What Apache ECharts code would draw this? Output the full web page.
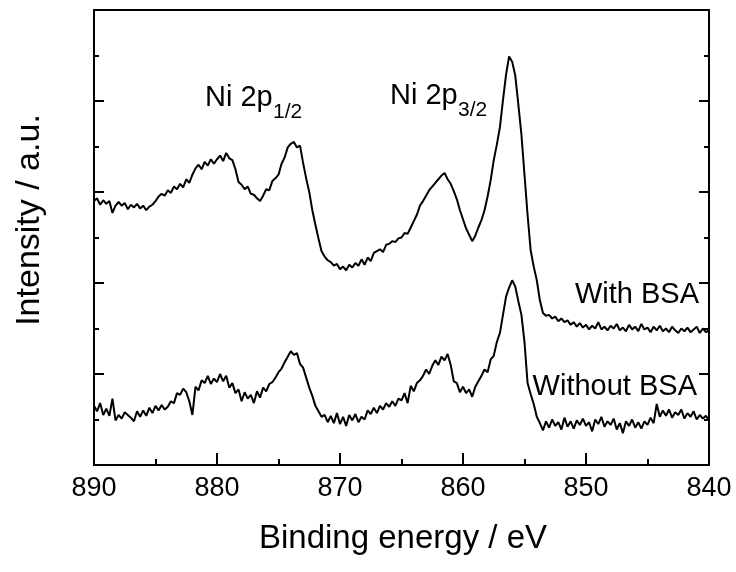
<!DOCTYPE html>
<html lang="en">
<head>
<meta charset="UTF-8">
<title>Ni 2p XPS</title>
<script src="https://cdn.jsdelivr.net/npm/echarts@6/dist/echarts.min.js"></script>
<style>
    html, body { margin: 0; padding: 0; background: #fff; }
    #main { width: 736px; height: 572px; }
</style>
</head>
<body>
<div id="main"></div>
<script>
// energy grid: 890 eV down to 840 eV, 0.25 eV per point
var startEnergy = 890;
var stepEnergy = 0.25;

// upper spectrum (one line per eV: E, E-0.25, E-0.5, E-0.75)
var withBSA = [
    5.80, 5.86, 5.72, 5.82,
    5.74, 5.80, 5.54, 5.70,
    5.78, 5.70, 5.76, 5.62,
    5.72, 5.66, 5.74, 5.64,
    5.70, 5.60, 5.68, 5.72,
    5.80, 5.90, 5.96, 5.92,
    6.04, 5.98, 6.12, 6.06,
    6.18, 6.10, 6.28, 6.20,
    6.38, 6.52, 6.60, 6.50,
    6.66, 6.58, 6.72, 6.62,
    6.72, 6.80, 6.68, 6.86,
    6.74, 6.70, 6.50, 6.22,
    6.16, 6.06, 6.12, 5.96,
    5.94, 5.86, 5.80, 5.92,
    6.06, 6.04, 6.24, 6.30,
    6.38, 6.62, 6.76, 6.98,
    7.06, 7.10, 6.98, 7.02,
    6.64, 6.30, 6.00, 5.60,
    5.28, 4.98, 4.70, 4.58,
    4.50, 4.46, 4.38, 4.42,
    4.30, 4.36, 4.28, 4.40,
    4.34, 4.44, 4.38, 4.52,
    4.40, 4.56, 4.48, 4.66,
    4.70, 4.74, 4.68, 4.84,
    4.86, 4.92, 4.90, 4.98,
    5.00, 5.10, 5.08, 5.22,
    5.36, 5.50, 5.70, 5.80,
    5.92, 6.04, 6.12, 6.20,
    6.28, 6.36, 6.42, 6.28,
    6.18, 6.02, 5.84, 5.60,
    5.40, 5.20, 5.06, 4.92,
    5.04, 5.22, 5.38, 5.60,
    5.90, 6.26, 6.70, 7.04,
    7.42, 8.02, 8.58, 8.98,
    8.86, 8.56, 7.92, 7.26,
    6.38, 5.50, 4.72, 4.36,
    4.06, 3.62, 3.34, 3.28,
    3.30, 3.22, 3.26, 3.16,
    3.22, 3.14, 3.18, 3.08,
    3.14, 3.04, 3.12, 3.02,
    3.08, 2.98, 3.06, 3.00,
    3.14, 2.98, 3.04, 2.96,
    3.06, 3.00, 3.10, 2.96,
    3.02, 2.94, 3.08, 2.98,
    3.04, 2.94, 3.10, 2.98,
    3.02, 2.92, 3.04, 2.96,
    3.06, 2.94, 3.00, 2.92,
    3.04, 2.96, 2.90, 3.00,
    2.94, 3.02, 2.92, 2.98,
    3.04, 2.90, 3.00, 2.92,
    2.96
];

// lower spectrum
var withoutBSA = [
    1.30, 1.18, 1.36, 1.10,
    1.24, 1.08, 1.46, 0.98,
    1.10, 1.02, 1.16, 1.10,
    1.04, 0.96, 1.18, 1.06,
    1.20, 1.08, 1.26, 1.14,
    1.30, 1.20, 1.32, 1.22,
    1.28, 1.40, 1.36, 1.58,
    1.54, 1.68, 1.60, 1.40,
    1.10, 1.72, 1.64, 1.86,
    1.80, 1.96, 1.78, 1.90,
    1.82, 2.00, 1.84, 1.96,
    1.70, 1.80, 1.58, 1.66,
    1.40, 1.60, 1.46, 1.54,
    1.36, 1.62, 1.48, 1.70,
    1.62, 1.78, 1.82, 1.92,
    2.04, 2.12, 2.26, 2.38,
    2.50, 2.42, 2.46, 2.22,
    2.14, 1.92, 1.70, 1.52,
    1.30, 1.18, 1.06, 1.10,
    0.94, 1.08, 0.92, 1.14,
    0.90, 1.06, 0.86, 1.10,
    0.98, 1.12, 0.94, 1.06,
    1.00, 1.20, 1.12, 1.26,
    1.14, 1.30, 1.22, 1.36,
    1.28, 1.40, 1.30, 1.46,
    1.42, 1.58, 1.36, 1.74,
    1.62, 1.80, 1.86, 1.96,
    2.10, 2.00, 2.18, 2.30,
    2.20, 2.38, 2.30, 2.44,
    2.20, 1.84, 1.80, 1.60,
    1.72, 1.58, 1.66, 1.50,
    1.72, 1.84, 1.96, 2.10,
    2.04, 2.32, 2.40, 2.70,
    2.90, 3.30, 3.70, 3.90,
    4.06, 3.92, 3.60, 3.30,
    2.70, 1.80, 1.56, 1.34,
    1.06, 0.92, 0.76, 0.96,
    0.82, 1.00, 0.86, 0.94,
    0.78, 1.04, 0.84, 0.96,
    0.80, 0.98, 0.88, 1.02,
    0.86, 0.94, 0.74, 1.00,
    0.90, 1.06, 0.84, 0.96,
    0.88, 1.02, 0.78, 0.92,
    0.70, 0.96, 0.86, 1.00,
    0.82, 0.94, 0.80, 0.96,
    0.88, 1.04, 0.92, 1.34,
    1.06, 1.20, 1.08, 1.22,
    1.04, 1.16, 1.10, 1.22,
    1.02, 1.14, 1.06, 1.18,
    1.00, 1.10, 1.02, 1.08,
    0.98
];

var seriesNames = ['With BSA', 'Without BSA'];

function toPairs(vals) {
    var out = [];
    for (var i = 0; i < vals.length; i++) {
        out.push([startEnergy - i * stepEnergy, vals[i]]);
    }
    return out;
}

var font = '"Liberation Sans", Arial, sans-serif';
var black = '#000';

var myChart = echarts.init(document.getElementById('main'));

var option = {
    animation: false,
    backgroundColor: '#fff',
    grid: { left: 94, right: 27, top: 10, bottom: 107, containLabel: false },
    xAxis: [{
        type: 'value', min: 840, max: 890, interval: 10, inverse: true, position: 'bottom',
        axisLine: { onZero: false, lineStyle: { color: black, width: 2 } },
        axisTick: { inside: true, length: 12, lineStyle: { color: black, width: 2 } },
        minorTick: { show: true, splitNumber: 2, length: 6, lineStyle: { color: black, width: 2 } },
        axisLabel: { color: black, fontSize: 27, fontFamily: font, margin: 10 },
        splitLine: { show: false }
    }, {
        type: 'value', min: 840, max: 890, inverse: true, position: 'top',
        axisLine: { onZero: false, lineStyle: { color: black, width: 2 } },
        axisTick: { show: false },
        axisLabel: { show: false },
        splitLine: { show: false }
    }],
    yAxis: [{
        type: 'value', min: 0, max: 10, interval: 2, position: 'left',
        axisLine: { show: true, onZero: false, lineStyle: { color: black, width: 2 } },
        axisTick: { show: true, inside: true, length: 10, lineStyle: { color: black, width: 2 } },
        minorTick: { show: true, splitNumber: 2, length: 5, lineStyle: { color: black, width: 2 } },
        axisLabel: { show: false },
        splitLine: { show: false }
    }, {
        type: 'value', min: 0, max: 10, interval: 2, position: 'right',
        axisLine: { show: true, onZero: false, lineStyle: { color: black, width: 2 } },
        axisTick: { show: true, inside: true, length: 10, lineStyle: { color: black, width: 2 } },
        minorTick: { show: true, splitNumber: 2, length: 5, lineStyle: { color: black, width: 2 } },
        axisLabel: { show: false },
        splitLine: { show: false }
    }],
    series: [{
        name: seriesNames[0], type: 'line', xAxisIndex: 0, yAxisIndex: 0,
        showSymbol: false, symbol: 'none',
        lineStyle: { color: black, width: 2 },
        data: toPairs(withBSA)
    }, {
        name: seriesNames[1], type: 'line', xAxisIndex: 0, yAxisIndex: 0,
        showSymbol: false, symbol: 'none',
        lineStyle: { color: black, width: 2 },
        data: toPairs(withoutBSA)
    }],
    graphic: [
        // axis titles
        { type: 'text', x: 403, y: 539, style: { text: 'Binding energy / eV', font: '33px ' + font, fill: black, align: 'center', verticalAlign: 'middle' } },
        { type: 'text', x: 30, y: 220, rotation: Math.PI / 2, style: { text: 'Intensity / a.u.', font: '34px ' + font, fill: black, align: 'center', verticalAlign: 'middle' } },
        // peak labels
        { type: 'text', x: 205, y: 98, style: { text: 'Ni 2p', font: '29px ' + font, fill: black, align: 'left', verticalAlign: 'middle' } },
        { type: 'text', x: 273, y: 112, style: { text: '1/2', font: '21px ' + font, fill: black, align: 'left', verticalAlign: 'middle' } },
        { type: 'text', x: 390, y: 96, style: { text: 'Ni 2p', font: '29px ' + font, fill: black, align: 'left', verticalAlign: 'middle' } },
        { type: 'text', x: 458, y: 110, style: { text: '3/2', font: '21px ' + font, fill: black, align: 'left', verticalAlign: 'middle' } },
        // curve labels
        { type: 'text', x: 699, y: 295, style: { text: seriesNames[0], font: '29px ' + font, fill: black, align: 'right', verticalAlign: 'middle' } },
        { type: 'text', x: 697, y: 387, style: { text: seriesNames[1], font: '29px ' + font, fill: black, align: 'right', verticalAlign: 'middle' } }
    ]
};

myChart.setOption(option);
</script>
</body>
</html>
